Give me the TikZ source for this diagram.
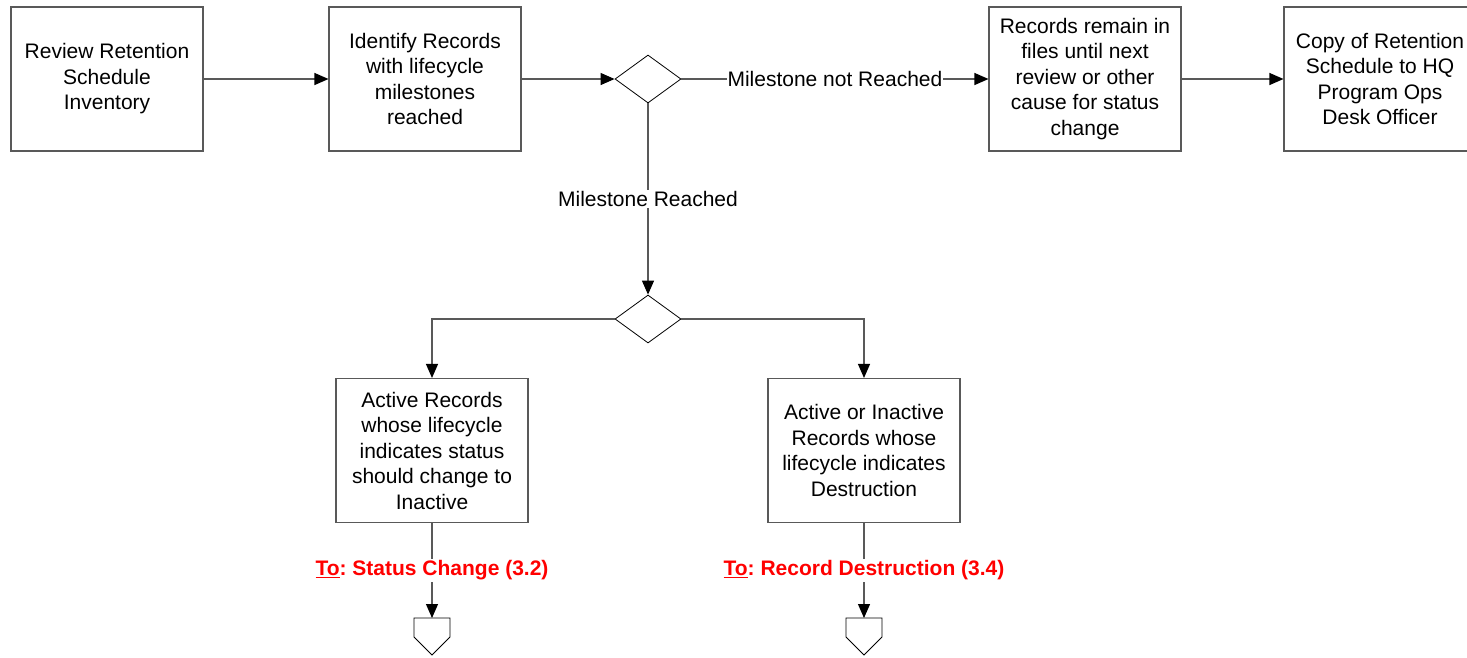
\documentclass[tikz,border=0pt]{standalone}
\usepackage{fontspec}
\setmainfont{Liberation Sans}
\usetikzlibrary{arrows.meta,shapes.geometric}
\begin{document}
\begin{tikzpicture}[x=1pt,y=-1pt,
  proc/.style={draw=black!65, line width=1.1pt, minimum width=192pt, minimum height=144pt,
    align=center, inner sep=0pt, font=\fontsize{21}{25.5}\selectfont},
  dec/.style={draw=black, line width=0.8pt, diamond, minimum width=66pt, minimum height=48pt, inner sep=0pt},
  flow/.style={draw=black!65, line width=1.1pt},
  arr/.style={flow, -{Triangle[length=14pt,width=12pt,color=black]}},
  lbl/.style={fill=white, inner sep=1pt, font=\fontsize{21}{25.5}\selectfont},
  offlbl/.style={fill=white, inner sep=2pt, text=red, font=\fontsize{21}{25.5}\selectfont\bfseries},
  offpage/.style={draw=black, line width=0.8pt, fill=white}
]
\useasboundingbox (0,0) rectangle (1467,657);
\clip (0,0) rectangle (1467,657);

% process steps
\node[proc] (b1) at (107,79) {\raisebox{-2pt}{\parbox{190pt}{\centering Review Retention\\Schedule\\Inventory}}};
\node[proc] (b2) at (425,79) {Identify Records\\with lifecycle\\milestones\\reached};
\node[proc] (b3) at (1085,79) {Records remain in\\files until next\\review or other\\cause for status\\change};
\node[proc] (b4) at (1380,79) {Copy of Retention\\Schedule to HQ\\Program Ops\\Desk Officer};
\node[proc] (b5) at (432,450.5) {Active Records\\whose lifecycle\\indicates status\\should change to\\Inactive};
\node[proc] (b6) at (864,450.5) {Active or Inactive\\Records whose\\lifecycle indicates\\Destruction};

% decisions
\node[dec] (d1) at (648,79) {};
\node[dec] (d2) at (648,319) {};

% off-page connectors
\coordinate (c5) at (432,618);
\coordinate (c6) at (864,618);
\foreach \c in {c5,c6}{
  \draw[offpage] (\c) ++(-18,0) -- ++(0,19) -- ++(18,18) -- ++(18,-18) -- ++(0,-19) -- cycle;
}

% connectors
\draw[arr] (b1.east) -- (b2.west);
\draw[arr] (b2.east) -- (d1.west);
\draw[arr] (d1.east) -- (b3.west) node[lbl, midway] {Milestone not Reached};
\draw[arr] (b3.east) -- (b4.west);
\draw[arr] (d1.south) -- (d2.north) node[lbl, midway] {Milestone Reached};
\draw[arr] (d2.west) -| (b5.north);
\draw[arr] (d2.east) -| (b6.north);
\draw[arr] (b5.south) -- (c5) node[offlbl, midway] {\underline{To}:~Status Change (3.2)};
\draw[arr] (b6.south) -- (c6) node[offlbl, midway] {\underline{To}:~Record Destruction (3.4)};
\end{tikzpicture}
\end{document}
